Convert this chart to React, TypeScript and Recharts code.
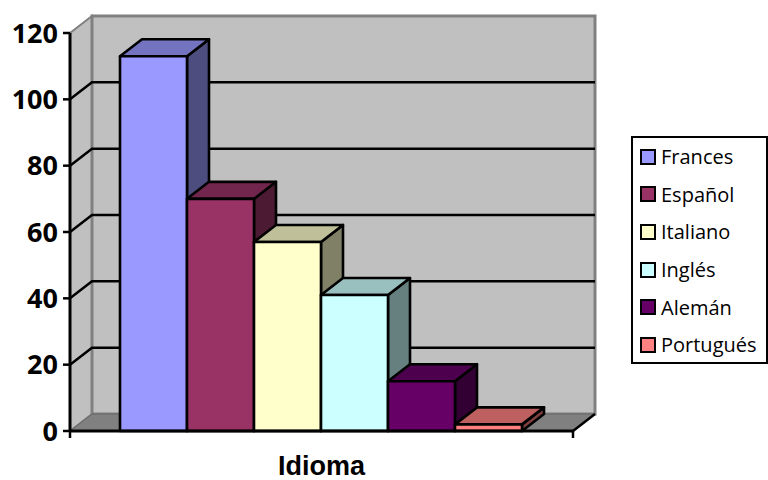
import { BarChart, Bar, XAxis, YAxis, CartesianGrid, Legend, ReferenceArea } from "recharts";

const categories = ["Idioma"];
const seriesNames = ["Frances", "Español", "Italiano", "Inglés", "Alemán", "Portugués"];
const seriesValues = [113, 70, 57, 41, 15, 2];
const seriesColors = ["#9999FF", "#993366", "#FFFFCC", "#CCFFFF", "#660066", "#FF8080"];
const yTicks = [0, 20, 40, 60, 80, 100, 120];

const DX = 22;
const DY = 17;
const FONT = "'Open Sans', sans-serif";

const rows = categories.map((c) => {
  const row: Record<string, any> = { name: c };
  seriesNames.forEach((s, i) => (row[s] = seriesValues[i]));
  return row;
});

// darken a hex colour, used for the top and side faces of the bars
function shade(hex: string, k: number) {
  const n = parseInt(hex.slice(1), 16);
  const c = [(n >> 16) & 255, (n >> 8) & 255, n & 255].map((v) => Math.round(v * k));
  return `rgb(${c.join(",")})`;
}

/** Front, top and side face of one bar */
function Bar3D({ x, y, width, height, fill }: any) {
  return (
    <g stroke="#000" strokeWidth={2.6} strokeLinejoin="round">
      <polygon
        points={`${x + width},${y} ${x + width + DX},${y - DY} ${x + width + DX},${y + height - DY} ${x + width},${y + height}`}
        fill={shade(fill, 0.5)}
      />
      <polygon
        points={`${x},${y} ${x + DX},${y - DY} ${x + width + DX},${y - DY} ${x + width},${y}`}
        fill={shade(fill, 0.75)}
      />
      <rect x={x} y={y} width={width} height={height} fill={fill} />
    </g>
  );
}

/** Side wall, back wall and floor behind the plot */
function Walls({ x, y, width, height }: any) {
  const b = y + height;
  const r = x + width;
  return (
    <g>
      <polygon
        points={`${x},${y} ${x + DX},${y - DY} ${x + DX},${b - DY} ${x},${b}`}
        fill="#C0C0C0"
        stroke="#808080"
        strokeWidth={2}
      />
      <rect x={x + DX} y={y - DY} width={width} height={height} fill="#C0C0C0" stroke="#808080" strokeWidth={3} />
      <polygon
        points={`${x},${b} ${x + DX},${b - DY} ${r + DX},${b - DY} ${r},${b}`}
        fill="#808080"
        stroke="#666"
        strokeWidth={1}
      />
      <line x1={r} y1={b} x2={r + DX} y2={b - DY} stroke="#000" strokeWidth={2.5} />
      <line x1={x} y1={b} x2={x} y2={b + 7} stroke="#000" strokeWidth={2.5} />
      <line x1={r} y1={b} x2={r} y2={b + 7} stroke="#000" strokeWidth={2.5} />
    </g>
  );
}

/** Gridline that runs up the side wall and across the back wall */
function gridLine({ x1, y1, x2, index }: any) {
  if (index === 0 || index === yTicks.length - 1) return <g key={index} />;
  return (
    <polyline
      key={index}
      points={`${x1},${y1} ${x1 + DX},${y1 - DY} ${x2 + DX},${y1 - DY}`}
      fill="none"
      stroke="#000"
      strokeWidth={2.5}
    />
  );
}

function LegendBox({ payload }: any) {
  return (
    <div
      style={{
        boxSizing: "border-box",
        width: 137,
        height: 228,
        border: "2.5px solid #000",
        background: "#fff",
        paddingLeft: 7,
        fontFamily: FONT,
        fontSize: 20,
        color: "#000",
      }}
    >
      {payload.map((p: any) => (
        <div key={p.value} style={{ display: "flex", alignItems: "center", height: 37.6 }}>
          <span
            style={{
              boxSizing: "border-box",
              width: 16,
              height: 16,
              marginRight: 5,
              border: "2.5px solid #000",
              background: p.color,
            }}
          />
          {p.value}
        </div>
      ))}
    </div>
  );
}

export default function App() {
  return (
    <div style={{ position: "absolute", left: 0, top: 0, width: 768, height: 480, background: "#fff" }}>
      <BarChart
        width={768}
        height={480}
        data={rows}
        margin={{ top: 33, right: 195, bottom: 0, left: 0 }}
        barCategoryGap={50}
        barGap={0}
      >
        <ReferenceArea y1={0} y2={120} shape={<Walls />} ifOverflow="visible" fill="none" zIndex={-200} />
        <CartesianGrid horizontal={gridLine} vertical={false} />
        <XAxis
          dataKey="name"
          height={49}
          tickLine={false}
          axisLine={{ stroke: "#000", strokeWidth: 3 }}
          tickMargin={19}
          tick={{ fontFamily: "'Liberation Sans', sans-serif", fontSize: 27, fontWeight: 700, fill: "#000" }}
        />
        <YAxis
          width={70}
          domain={[0, 120]}
          ticks={yTicks}
          interval={0}
          tickSize={7}
          tickLine={{ stroke: "#000", strokeWidth: 2.5 }}
          axisLine={{ stroke: "#000", strokeWidth: 3 }}
          tickMargin={5}
          tick={{ fontFamily: FONT, fontSize: 27, fontWeight: 700, fill: "#000" }}
        />
        <Legend
          layout="horizontal"
          verticalAlign="middle"
          itemSorter={null}
          content={<LegendBox />}
          wrapperStyle={{ position: "absolute", left: 631, top: 136, width: 137, height: 228 }}
        />
        {seriesNames.map((s, i) => (
          <Bar key={s} dataKey={s} name={s} fill={seriesColors[i]} shape={<Bar3D />} isAnimationActive={false} />
        ))}
      </BarChart>
    </div>
  );
}
